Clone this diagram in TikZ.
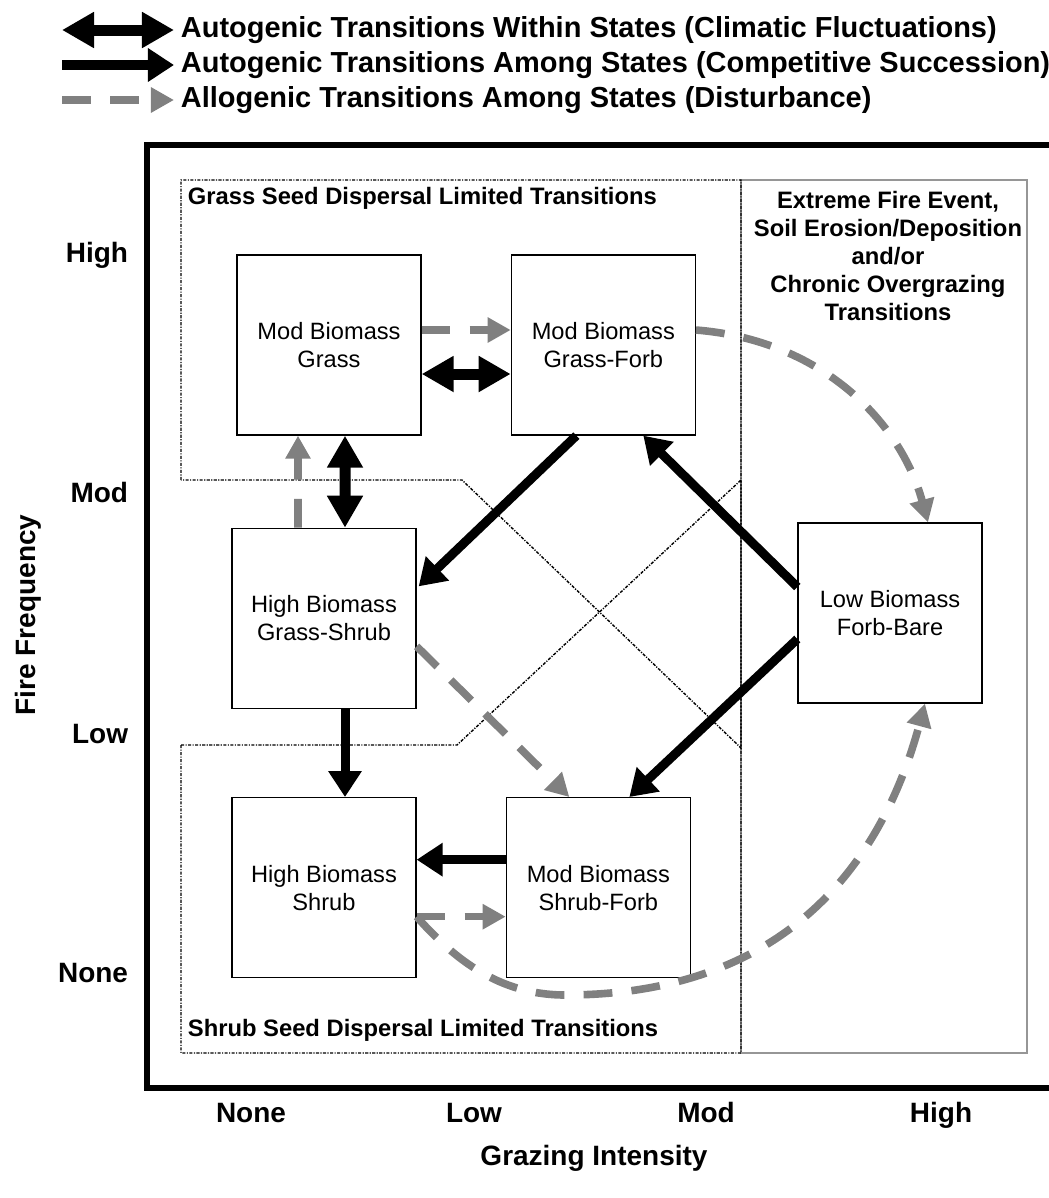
\documentclass[tikz,border=0pt]{standalone}
\usepackage{fontspec}
\setmainfont{Liberation Sans}
\usepackage{xcolor}
\usepackage{tikz}
\usetikzlibrary{positioning,arrows.meta,calc}

\definecolor{distgray}{RGB}{128,128,128}
\definecolor{framegray}{RGB}{150,150,150}

\begin{document}
\begin{tikzpicture}[
    x=0.025cm,
    y=-0.025cm,
    node distance=2.225cm,
    font=\fontsize{16.8}{19.9}\selectfont,
    every node/.style={align=center},
    statebox/.style={draw, rectangle, line width=0.9pt, fill=white,
        minimum width=4.6cm, minimum height=4.5cm, inner sep=0pt},
    region/.style={line width=1pt,
        dash pattern=on 2.2pt off 1pt on 0.8pt off 1pt},
    boldlabel/.style={font=\fontsize{16.9}{19.9}\selectfont\bfseries},
    axislabel/.style={font=\fontsize{19.9}{23}\selectfont\bfseries},
    legendlabel/.style={anchor=west, font=\fontsize{20.6}{24}\selectfont\bfseries},
    within/.style={line width=0.275cm,
        arrows={Triangle[length=0.8cm,width=0.85cm]-Triangle[length=0.8cm,width=0.85cm]}},
    among/.style={line width=0.225cm,
        arrows={-Triangle[length=0.65cm,width=0.8cm]}},
    disturb/.style={draw=distgray, line width=0.19cm,
        dash pattern=on 0.72cm off 0.48cm,
        arrows={-Triangle[length=0.575cm,width=0.6cm]}}
]
\useasboundingbox (0,0) rectangle (1048,1198);

% Legend
\node[legendlabel] (legwithin) at (176,30) {Autogenic Transitions Within States (Climatic Fluctuations)};
\node[legendlabel] (legamong) at (176,65) {Autogenic Transitions Among States (Competitive Succession)};
\node[legendlabel] (legdisturb) at (176,100) {Allogenic Transitions Among States (Disturbance)};
\coordinate (legwithinstart) at (62,30);
\coordinate (legamongstart) at (62,65);
\coordinate (legdisturbstart) at (62,100);
\draw[within] (legwithinstart) -- ($(legwithin.west)+(-2,0)$);
\draw[among, line width=0.27cm] (legamongstart) -- ($(legamong.west)+(-2,0)$);
\draw[disturb] (legdisturbstart) -- ($(legdisturb.west)+(-2,0)$);

% Frames
\draw[line width=0.15cm] (147,145) rectangle (1070,1088);
\draw[framegray, line width=1.2pt] (741,180) rectangle (1027,1053);
\draw[region] (181,480) -- (181,180) -- (741,180) -- (741,748) -- (462,480) -- cycle;
\draw[region] (181,745) -- (181,1053) -- (741,1053) -- (741,480) -- (457,745) -- cycle;

% States
\node[statebox] (grass) at (329,345) {Mod Biomass\\Grass};
\node[statebox, right=of grass] (grassforb) {Mod Biomass\\Grass-Forb};
\node[statebox, below=2.3cm of grass, xshift=-0.125cm] (grassshrub) {High Biomass\\Grass-Shrub};
\node[statebox, below=2.2cm of grassshrub] (shrub) {High Biomass\\Shrub};
\node[statebox, right=of shrub] (shrubforb) {Mod Biomass\\Shrub-Forb};
\node[statebox] (forbbare) at (890,613) {Low Biomass\\Forb-Bare};

% Region titles
\node[boldlabel, anchor=west] (grasstitle) at (183,198) {Grass Seed Dispersal Limited Transitions};
\node[boldlabel, anchor=west] (shrubtitle) at (183,1030) {Shrub Seed Dispersal Limited Transitions};
\node[boldlabel] (extremetitle) at (888,256) {Extreme Fire Event,\\Soil Erosion/Deposition\\and/or\\Chronic Overgrazing\\Transitions};

% Axes
\node[axislabel, anchor=base east] (firehigh) at (133,262) {High};
\node[axislabel, anchor=base east] (firemod) at (133,502) {Mod};
\node[axislabel, anchor=base east] (firelow) at (133,743) {Low};
\node[axislabel, anchor=base east] (firenone) at (133,982) {None};
\node[axislabel, rotate=90] (firefreq) at (28,615) {Fire Frequency};
\node[axislabel, anchor=base] (graznone) at (251,1122) {None};
\node[axislabel, anchor=base] (grazlow) at (474,1122) {Low};
\node[axislabel, anchor=base] (grazmod) at (706,1122) {Mod};
\node[axislabel, anchor=base] (grazhigh) at (941,1122) {High};
\node[axislabel, anchor=base] (grazing) at (594,1165) {Grazing Intensity};

% Transitions within states
\draw[within] ($(grass.east)+(0,29)$) -- ($(grassforb.west)+(0,29)$);
\draw[within] ($(grass.south)+(16,0)$) -- ($(grassshrub.north)+(21,0)$);

% Transitions among states
\draw[among] ($(grassforb.south)+(-27,0)$) -- ($(grassshrub.east)+(2,-32)$);
\draw[among] ($(forbbare.west)+(0,-26)$) -- ($(grassforb.south)+(40,0)$);
\draw[among] ($(forbbare.west)+(0,26)$) -- ($(shrubforb.north)+(31,0)$);
\draw[among] ($(grassshrub.south)+(21,0)$) -- ($(shrub.north)+(21,0)$);
\draw[among] ($(shrubforb.west)+(0,-28)$) -- ($(shrub.east)+(0,-28)$);

% Disturbance
\draw[disturb] ($(grass.east)+(0,-15)$) -- ($(grassforb.west)+(0,-15)$);
\draw[disturb] ($(grassshrub.north)+(-26,0)$) -- ($(grass.south)+(-31,0)$);
\draw[disturb] ($(grassshrub.east)+(0,28)$) -- ($(shrubforb.north)+(-29,0)$);
\draw[disturb] ($(shrub.east)+(0,29)$) -- ($(shrubforb.west)+(0,29)$);
\draw[disturb] ($(grassforb.east)+(0,-15)$) .. controls (820,340) and (900,420) .. ($(forbbare.north)+(38,0)$);
\draw[disturb] ($(shrub.east)+(0,29)$) .. controls (455,960) and (500,995) .. (565,995)
    .. controls (780,995) and (880,870) .. ($(forbbare.south)+(35,0)$);

\end{tikzpicture}
\end{document}
